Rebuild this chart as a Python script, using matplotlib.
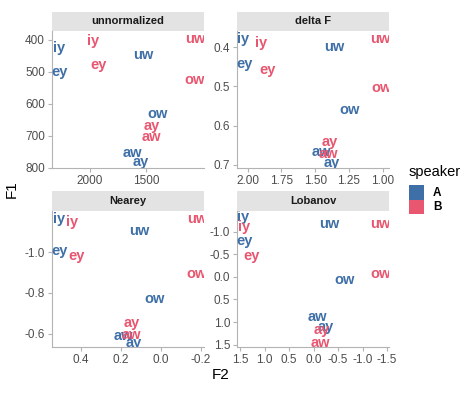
# vowel normalization facets -> out.png
import numpy as np
import matplotlib; matplotlib.use("Agg")
import matplotlib.pyplot as plt
from matplotlib.ticker import FormatStrFormatter

plt.rcParams["font.family"] = ["Liberation Sans", "DejaVu Sans"]
plt.rcParams["axes.unicode_minus"] = False

vowels = ["iy", "ey", "uw", "ow", "aw", "ay"]
speakers = ["A", "B"]
colors = {"A": "#3F6FA7", "B": "#E85670"}

# unnormalized (Hz)
raw_f2_A = [2277, 2268, 1527, 1393, 1625, 1545]
raw_f1_A = [425, 500, 447, 631, 753, 781]
raw_f2_B = [1973, 1920, 1062, 1062, 1455, 1446]
raw_f1_B = [403, 478, 397, 525, 703, 669]

# delta F
dF_f2_A = [2.033, 2.025, 1.358, 1.242, 1.452, 1.378]
dF_f1_A = [0.380, 0.443, 0.400, 0.560, 0.666, 0.694]
dF_f2_B = [1.901, 1.852, 1.020, 1.010, 1.403, 1.395]
dF_f1_B = [0.389, 0.459, 0.380, 0.505, 0.673, 0.643]

# Nearey
nr_f2_A = [0.510, 0.508, 0.108, 0.030, 0.190, 0.138]
nr_f1_A = [-1.162, -1.005, -1.105, -0.772, -0.590, -0.556]
nr_f2_B = [0.443, 0.420, -0.180, -0.180, 0.146, 0.146]
nr_f1_B = [-1.146, -0.980, -1.162, -0.890, -0.594, -0.652]

# Lobanov
lb_f2_A = [1.433, 1.413, -0.319, -0.624, -0.080, -0.250]
lb_f1_A = [-1.32, -0.80, -1.164, 0.073, 0.893, 1.11]
lb_f2_B = [1.43, 1.26, -1.36, -1.375, -0.14, -0.164]
lb_f1_B = [-1.11, -0.47, -1.18, -0.075, 1.46, 1.17]

W, H = 474, 393
fig = plt.figure(figsize=(W / 100, H / 100), dpi=100)
fig.patch.set_facecolor("white")

def px_axes(l, t, r, b):
    return fig.add_axes([l / W, 1 - b / H, (r - l) / W, (b - t) / H])

panels = [
    dict(title="unnormalized", box=(52, 31, 204, 168), head=12,
         A=(raw_f2_A, raw_f1_A), B=(raw_f2_B, raw_f1_B),
         xlim=(2340, 982), ylim=(800, 372),
         xt=[2000, 1500], yt=[400, 500, 600, 700, 800], xf="%d", yf="%d"),
    dict(title="delta F", box=(237, 31, 389, 168), head=12,
         A=(dF_f2_A, dF_f1_A), B=(dF_f2_B, dF_f1_B),
         xlim=(2.079, 0.953), ylim=(0.708, 0.359),
         xt=[2.0, 1.75, 1.5, 1.25, 1.0], yt=[0.4, 0.5, 0.6, 0.7], xf="%.2f", yf="%.1f"),
    dict(title="Nearey", box=(52, 211, 204, 347), head=191,
         A=(nr_f2_A, nr_f1_A), B=(nr_f2_B, nr_f1_B),
         xlim=(0.545, -0.215), ylim=(-0.534, -1.2015),
         xt=[0.4, 0.2, 0.0, -0.2], yt=[-1.0, -0.8, -0.6], xf="%.1f", yf="%.1f"),
    dict(title="Lobanov", box=(237, 211, 389, 347), head=191,
         A=(lb_f2_A, lb_f1_A), B=(lb_f2_B, lb_f1_B),
         xlim=(1.567, -1.54), ylim=(1.553, -1.46),
         xt=[1.5, 1.0, 0.5, 0.0, -0.5, -1.0, -1.5], yt=[-1.0, -0.5, 0.0, 0.5, 1.0, 1.5],
         xf="%.1f", yf="%.1f"),
]

for p in panels:
    l, t, r, b = p["box"]
    # strip header
    hx = px_axes(l, p["head"], r, t)
    hx.set_facecolor("#E3E3E3")
    hx.set_xticks([]); hx.set_yticks([])
    for s in hx.spines.values():
        s.set_visible(False)
    hx.text(0.5, 0.5, p["title"], ha="center", va="center", fontsize=8,
            fontweight="bold", color="#1A1A1A", transform=hx.transAxes)

    ax = px_axes(l, t, r, b)
    ax.set_xlim(*p["xlim"]); ax.set_ylim(*p["ylim"])
    for spk in speakers:
        xs, ys = p[spk]
        for v, x, y in zip(vowels, xs, ys):
            ax.text(x, y, v, ha="center", va="center", fontsize=10.5,
                    fontweight="bold", color=colors[spk], clip_on=True)
    ax.set_xticks(p["xt"]); ax.set_yticks(p["yt"])
    ax.xaxis.set_major_formatter(FormatStrFormatter(p["xf"]))
    ax.yaxis.set_major_formatter(FormatStrFormatter(p["yf"]))
    ax.spines["top"].set_visible(False); ax.spines["right"].set_visible(False)
    for s in ("left", "bottom"):
        ax.spines[s].set_color("#B3B3B3"); ax.spines[s].set_linewidth(0.8)
    ax.tick_params(colors="#B3B3B3", labelcolor="#4D4D4D", labelsize=8.5,
                   length=3, width=0.8, pad=2)

fig.text(12 / W, 1 - 189 / H, "F1", rotation=90, ha="center", va="center",
         fontsize=11, color="black")
fig.text(221 / W, 1 - 375 / H, "F2", ha="center", va="center",
         fontsize=11, color="black")

# legend
fig.text(409 / W, 1 - 172 / H, "speaker", ha="left", va="center", fontsize=10.5)
for i, spk in enumerate(speakers):
    top = 185 + i * 14.5
    lx = fig.add_axes([409 / W, 1 - (top + 14.5) / H, 15 / W, 14.5 / H])
    lx.set_facecolor(colors[spk])
    lx.set_xticks([]); lx.set_yticks([])
    for s in lx.spines.values():
        s.set_visible(False)
    fig.text(433 / W, 1 - (top + 7.5) / H, spk, ha="left", va="center",
             fontsize=8.5, fontweight="bold")

fig.savefig("out.png", dpi=100, facecolor="white")
